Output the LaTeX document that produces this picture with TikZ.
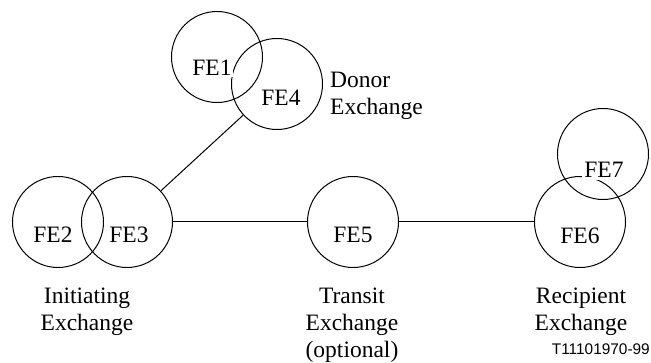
\documentclass[tikz,border=0pt]{standalone}
\usepackage{fontspec}
\setmainfont{Liberation Serif}
\newfontfamily\tagfont{Liberation Sans}
\begin{document}
\begin{tikzpicture}[x=1pt,y=-1pt,
  fe/.style={circle,draw,line width=1pt,minimum size=91pt,inner sep=0pt},
  felabel/.style={anchor=base,font=\fontsize{23.5}{27}\selectfont,inner sep=0pt},
  masklabel/.style={felabel,fill=white,inner sep=2pt},
  caption/.style={anchor=base,align=center,font=\fontsize{23.5}{27}\selectfont,inner sep=0pt},
  link/.style={line width=1pt}]
\useasboundingbox (0,0) rectangle (651,363);
% circles
\node[fe] (c1) at (217,57) {};
\node[fe] (c4) at (277,84) {};
\node[fe] (c2) at (58,222) {};
\node[fe] (c3) at (127,222) {};
\node[fe] (c5) at (353,222) {};
\node[fe] (c6) at (580,222) {};
\node[fe] (c7) at (603,154) {};
% connectors
\draw[link] (c4) -- (c3);
\draw[link] (c3) -- (c5);
\draw[link] (c5) -- (c6);
% labels in circles
\node[masklabel,inner sep=1pt] (t1) at (212,76) {FE1};
\node[felabel] (t4) at (281,106) {FE4};
\node[felabel] (t2) at (53,243) {FE2};
\node[felabel] (t3) at (129,243) {FE3};
\node[felabel] (t5) at (353,243) {FE5};
\node[felabel] (t6) at (580,244) {FE6};
\node[masklabel] (t7) at (604,178) {FE7};
% captions (base = baseline of last line)
\node[caption,anchor=base west,align=left] (donor) at (330,115) {Donor\\Exchange};
\node[caption] (init) at (87,331) {Initiating\\Exchange};
\node[caption] (transit) at (352,358) {Transit\\Exchange\\(optional)};
\node[caption] (recip) at (581,331) {Recipient\\Exchange};
\node[anchor=base east,inner sep=0pt,font=\tagfont\fontsize{15.4}{18}\selectfont] (tag) at (650,355) {T11101970-99};
\end{tikzpicture}
\end{document}
